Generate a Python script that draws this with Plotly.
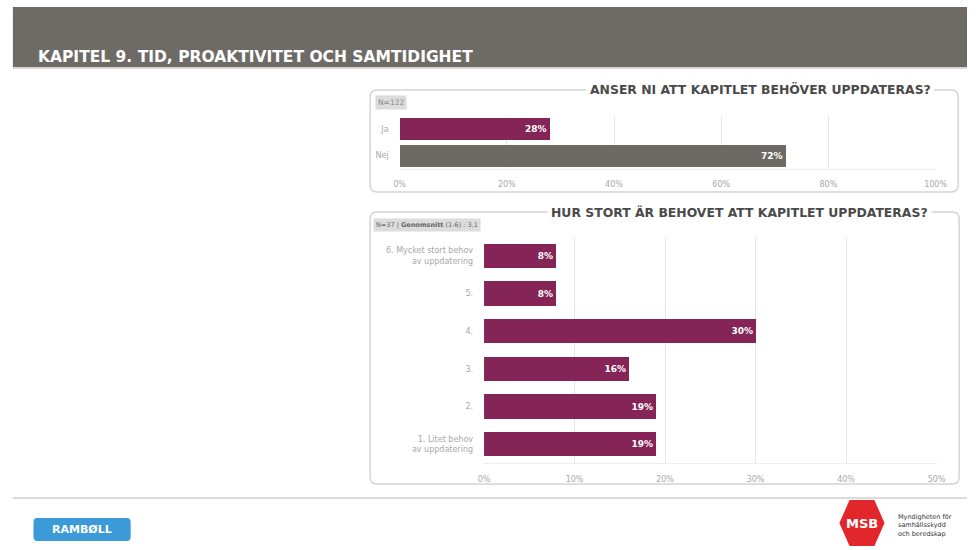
import plotly.graph_objects as go

W, H = 979, 550

# ---- data ----
q1_title = "ANSER NI ATT KAPITLET BEHÖVER UPPDATERAS?"
q1_categories = ["Ja", "Nej"]
q1_values = [28, 72]
q1_note = "N=122"
x1_ticks = [0, 20, 40, 60, 80, 100]

q2_title = "HUR STORT ÄR BEHOVET ATT KAPITLET UPPDATERAS?"
q2_categories = ["6. Mycket stort behov<br>av uppdatering", "5.", "4.", "3.", "2.",
                 "1. Litet behov<br>av uppdatering"]
q2_values = [8, 8, 30, 16, 19, 19]
q2_note = "N=37 | <b>Genomsnitt</b> (1-6) : 3,1"
x2_ticks = [0, 10, 20, 30, 40, 50]

page_title = "KAPITEL 9. TID, PROAKTIVITET OCH SAMTIDIGHET"

PURPLE = "#852456"
GREY_BAR = "#6d6a63"
HEADER = "#6e6b66"
TICK = "#a8a8a8"
FONT = "DejaVu Sans"


def px(x):
    return x / W


def py(y):
    return 1 - y / H


def rrect(x0, y0, x1, y1, r):
    pts = [
        f"M {px(x0 + r)} {py(y0)}",
        f"L {px(x1 - r)} {py(y0)}",
        f"Q {px(x1)} {py(y0)} {px(x1)} {py(y0 + r)}",
        f"L {px(x1)} {py(y1 - r)}",
        f"Q {px(x1)} {py(y1)} {px(x1 - r)} {py(y1)}",
        f"L {px(x0 + r)} {py(y1)}",
        f"Q {px(x0)} {py(y1)} {px(x0)} {py(y1 - r)}",
        f"L {px(x0)} {py(y0 + r)}",
        f"Q {px(x0)} {py(y0)} {px(x0 + r)} {py(y0)}",
        "Z",
    ]
    return " ".join(pts)


fig = go.Figure()

fig.add_trace(go.Bar(
    x=q1_values, y=q1_categories, orientation="h",
    marker=dict(color=[PURPLE, GREY_BAR], line=dict(width=0)),
    width=0.83,
    text=[f"{v}%" for v in q1_values], textposition="inside",
    insidetextanchor="end",
    textfont=dict(color="white", size=9, family=FONT, weight="bold"),
    xaxis="x", yaxis="y", hoverinfo="skip", showlegend=False,
))

fig.add_trace(go.Bar(
    x=q2_values, y=q2_categories, orientation="h",
    marker=dict(color=PURPLE, line=dict(width=0)),
    width=0.64,
    text=[f"{v}%" for v in q2_values], textposition="inside",
    insidetextanchor="end",
    textfont=dict(color="white", size=9, family=FONT, weight="bold"),
    xaxis="x2", yaxis="y2", hoverinfo="skip", showlegend=False,
))

axis_common = dict(
    showgrid=True, gridcolor="#e6e6e6", gridwidth=1, zeroline=False,
    tickfont=dict(size=8, color=TICK, family=FONT),
    showline=True, linecolor="#eeeeee", ticks="",
)

fig.update_layout(
    width=W, height=H,
    margin=dict(l=0, r=0, t=0, b=0),
    paper_bgcolor="white", plot_bgcolor="rgba(0,0,0,0)",
    bargap=0,
    xaxis=dict(domain=[px(401), px(947)], range=[0, 100], tickmode="array",
               tickvals=x1_ticks, ticktext=[f"{v}%" for v in x1_ticks],
               anchor="y", ticklabelstandoff=8, **axis_common),
    yaxis=dict(domain=[py(168.5), py(115.5)], anchor="x", autorange="reversed",
               categoryorder="array", categoryarray=q1_categories,
               tickfont=dict(size=8, color=TICK, family=FONT),
               showgrid=False, ticks="", ticklabelstandoff=10),
    xaxis2=dict(domain=[px(487), px(948)], range=[0, 50], tickmode="array",
                tickvals=x2_ticks, ticktext=[f"{v}%" for v in x2_ticks],
                anchor="y2", ticklabelstandoff=8, **axis_common),
    yaxis2=dict(domain=[py(463), py(237)], anchor="x2", autorange="reversed",
                categoryorder="array", categoryarray=q2_categories,
                tickfont=dict(size=8, color=TICK, family=FONT),
                showgrid=False, ticks="", ticklabelstandoff=10),
)

shapes = []
# header band
shapes.append(dict(type="rect", xref="paper", yref="paper",
                   x0=px(7), x1=px(979), y0=py(67), y1=py(7),
                   fillcolor=HEADER, line=dict(width=0), layer="below"))
shapes.append(dict(type="line", xref="paper", yref="paper",
                   x0=px(7), x1=px(979), y0=py(68), y1=py(68),
                   line=dict(color="#b5b3ae", width=1), layer="below"))
# chart boxes
for (x0, y0, x1, y1) in [(371, 90, 970, 192), (371, 212, 971, 484)]:
    shapes.append(dict(type="path", xref="paper", yref="paper",
                       path=rrect(x0, y0, x1, y1, 7),
                       fillcolor="rgba(0,0,0,0)",
                       line=dict(color="#d4d4d4", width=1.5), layer="below"))
# footer line
shapes.append(dict(type="line", xref="paper", yref="paper",
                   x0=px(7), x1=px(979), y0=py(498), y1=py(498),
                   line=dict(color="#cfcfcf", width=1.5), layer="below"))
# Ramboll logo box
shapes.append(dict(type="path", xref="paper", yref="paper",
                   path=rrect(28, 518, 127, 541, 4),
                   fillcolor="#3d9ad8", line=dict(width=0)))
# MSB logo hexagon
cx, cy, rr = 872, 523, 23
hexpts = [(cx - rr * 0.55, cy - rr), (cx + rr * 0.55, cy - rr), (cx + rr, cy),
          (cx + rr * 0.55, cy + rr), (cx - rr * 0.55, cy + rr), (cx - rr, cy)]
path = "M " + " L ".join(f"{px(a)} {py(b)}" for a, b in hexpts) + " Z"
shapes.append(dict(type="path", xref="paper", yref="paper", path=path,
                   fillcolor="#e1262c", line=dict(width=0)))
fig.update_layout(shapes=shapes)

ann = []
ann.append(dict(text=page_title, x=px(31), y=py(57), xref="paper", yref="paper",
                xanchor="left", yanchor="middle", showarrow=False,
                font=dict(size=15.5, color="white", family=FONT, weight="bold")))
ann.append(dict(text=q1_title, x=px(769), y=py(90), xref="paper", yref="paper",
                xanchor="center", yanchor="middle", showarrow=False,
                bgcolor="white", borderpad=3,
                font=dict(size=12.4, color="#4a4a4a", family=FONT, weight="bold")))
ann.append(dict(text=q2_title, x=px(747), y=py(212), xref="paper", yref="paper",
                xanchor="center", yanchor="middle", showarrow=False,
                bgcolor="white", borderpad=3,
                font=dict(size=12.4, color="#4a4a4a", family=FONT, weight="bold")))
ann.append(dict(text=q1_note, x=px(376), y=py(102.5), xref="paper", yref="paper",
                xanchor="left", yanchor="middle", showarrow=False,
                bgcolor="#dcdcdc", borderpad=2,
                font=dict(size=7.5, color="#888888", family=FONT)))
ann.append(dict(text=q2_note, x=px(374), y=py(225), xref="paper", yref="paper",
                xanchor="left", yanchor="middle", showarrow=False,
                bgcolor="#dcdcdc", borderpad=2,
                font=dict(size=6.5, color="#666666", family=FONT)))
ann.append(dict(text="RAMBØLL", x=px(77), y=py(529.5), xref="paper", yref="paper",
                xanchor="center", yanchor="middle", showarrow=False,
                font=dict(size=11, color="white", family=FONT, weight="bold")))
ann.append(dict(text="MSB", x=px(872), y=py(523), xref="paper", yref="paper",
                xanchor="center", yanchor="middle", showarrow=False,
                font=dict(size=13, color="white", family=FONT, weight="bold")))
ann.append(dict(text="Myndigheten för<br>samhällsskydd<br>och beredskap",
                x=px(907), y=py(525), xref="paper", yref="paper",
                xanchor="left", yanchor="middle", showarrow=False, align="left",
                font=dict(size=6.5, color="#333333", family=FONT)))
fig.update_layout(annotations=ann)

fig.write_html(
    "out.html",
    config={"displayModeBar": False},
    post_script="document.body.style.margin='0';document.body.style.overflow='hidden';",
)
